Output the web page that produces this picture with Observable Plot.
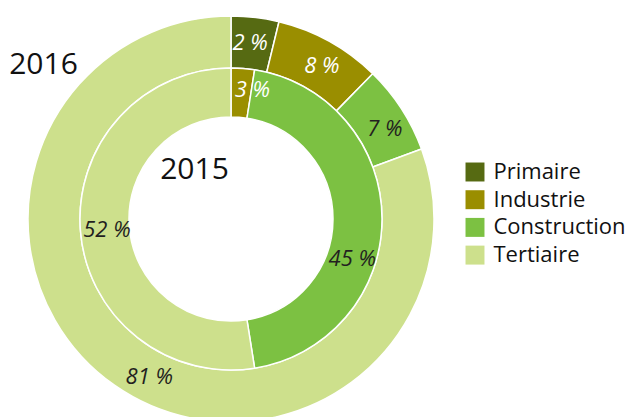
<!DOCTYPE html>
<html><head><meta charset="utf-8">
<script src="https://cdn.jsdelivr.net/npm/d3@7"></script>
<script src="https://cdn.jsdelivr.net/npm/@observablehq/plot@0.6"></script>
<style>
html,body{margin:0;padding:0;background:#fff;overflow:hidden}
#chart svg{display:block;overflow:hidden}
</style>
</head><body><div id="chart"></div>
<script>
// ---- data ----
const sectors = ["Primaire", "Industrie", "Construction", "Tertiaire"];
const colors = ["#566a12", "#9a8e00", "#7cc142", "#cde08c"];
const years = ["2016", "2015"];
const share2016 = [3.8, 8.5, 7.1, 80.6];
const share2015 = [0, 2.5, 45.0, 52.5];    // inner ring
const labels2016 = ["2 %", "8 %", "7 %", "81 %"];
const labels2015 = ["", "3 %", "45 %", "52 %"];

// ---- layout (pixels relative to the centre) ----
const rings = [
  {year: years[0], values: share2016, labels: labels2016, r0: 151, r1: 203,
   labelAngle: [6, 30.5, 59.5, 207.5], labelR: [178, 178, 178, 178]},
  {year: years[1], values: share2015, labels: labels2015, r0: 102, r1: 151,
   labelAngle: [0, 9.2, 108, 265], labelR: [126, 131, 127, 125]}
];
const textColor = ["#ffffff", "#ffffff", "#231f20", "#231f20"];

// slices
const pie = d3.pie().sort(null).value(d => d.value).startAngle(0).endAngle(2 * Math.PI);
const slices = [];
rings.forEach(ring => {
  const arcs = pie(sectors.map((s, i) => ({sector: s, value: ring.values[i]})));
  arcs.forEach(a => slices.push({...a, sector: a.data.sector, r0: ring.r0, r1: ring.r1}));
});

const labelRows = [];
rings.forEach(ring => {
  sectors.forEach((s, i) => {
    if (!ring.labels[i]) return;
    const a = ring.labelAngle[i] * Math.PI / 180;
    labelRows.push({text: ring.labels[i], x: ring.labelR[i] * Math.sin(a),
      y: -ring.labelR[i] * Math.cos(a), color: textColor[i]});
  });
});

const legendRows = sectors.map((s, i) => ({sector: s, y: -47.5 + i * 27.7}));

function donut(index, scales) {
  const sx = scales.x, sy = scales.y;
  const cx = sx(0), cy = sy(0), k = sx(1) - sx(0);
  const color = d3.scaleOrdinal(sectors, colors);
  const g = d3.create("svg:g").attr("transform", `translate(${cx},${cy})`);
  const arc = d3.arc();
  g.selectAll("path").data(slices.filter(d => d.value > 0)).join("path")
    .attr("d", d => arc({innerRadius: d.r0 * k, outerRadius: d.r1 * k,
      startAngle: d.startAngle, endAngle: d.endAngle}))
    .attr("fill", d => color(d.sector))
    .attr("stroke", "#ffffff")
    .attr("stroke-width", 1.5)
    .attr("stroke-linejoin", "round");
  return g.node();
}

const chart = Plot.plot({
  width: 628, height: 417,
  margin: 0,
  style: {fontFamily: "'Open Sans', sans-serif", background: "#fff"},
  x: {domain: [-231, 397], range: [0, 628], axis: null},
  y: {domain: [-219, 198], range: [0, 417], axis: null},
  color: {domain: sectors, range: colors},
  marks: [
    donut,
    Plot.text(labelRows, {x: "x", y: "y", text: "text", fill: "color",
      fontSize: 22, fontStyle: "italic"}),
    Plot.text([years[0]], {x: -188, y: -155, text: d => d, fontSize: 30, fill: "#111"}),
    Plot.text([years[1]], {x: -37, y: -50, text: d => d, fontSize: 30, fill: "#111"}),
    Plot.dot(legendRows, {x: 243.5, y: "y", fill: "sector", symbol: "square", r: 10.7}),
    Plot.text(legendRows, {x: 262, y: "y", text: "sector", textAnchor: "start",
      fontSize: 22, fill: "#111"})
  ]
});
document.getElementById("chart").append(chart);
</script>
</body></html>
